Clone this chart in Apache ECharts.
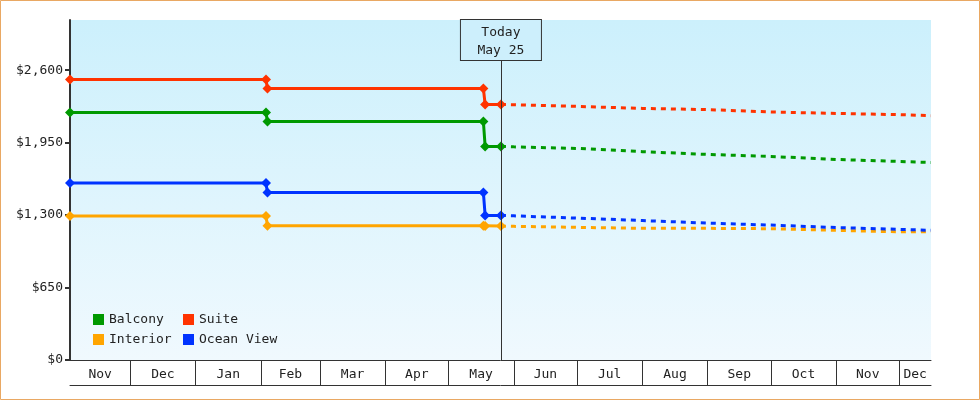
<!DOCTYPE html>
<html><head><meta charset="utf-8">
<script src="https://cdn.jsdelivr.net/npm/echarts@6/dist/echarts.min.js"></script>
<style>html,body{margin:0;padding:0;background:#fff}#c{width:980px;height:400px}</style>
</head><body><div id="c"></div>
<script>
// ---- data ----
const axisStart = '2022-11-02T10:00:00';
const axisEnd = '2023-12-16T00:00:00';
const monthStarts = ['2022-12-01','2023-01-01','2023-02-01','2023-03-01','2023-04-01','2023-05-01','2023-06-01','2023-07-01','2023-08-01','2023-09-01','2023-10-01','2023-11-01','2023-12-01'];
const monthLabels = ['Nov','Dec','Jan','Feb','Mar','Apr','May','Jun','Jul','Aug','Sep','Oct','Nov','Dec'];
const yTicks = [0, 650, 1300, 1950, 2600];
const yMax = 3050;
const todayDate = '2023-05-25T22:00:00';
const todayTop = 2691;
const todayLabel = 'Today\nMay 25';

const seriesNames = ['Balcony', 'Suite', 'Interior', 'Ocean View'];
const seriesColors = ['#009900', '#ff3300', '#ffa500', '#0033ff'];

const historyDates = ['2022-11-02T10:00:00','2023-02-03T10:00:00','2023-02-04T03:00:00','2023-05-17T14:00:00','2023-05-18T10:00:00','2023-05-25T22:00:00'];
const balconyHistory  = [2221, 2221, 2140, 2140, 1916, 1916];
const suiteHistory    = [2517, 2517, 2436, 2436, 2292, 2292];
const interiorHistory = [1291, 1291, 1205, 1205, 1201, 1201];
const oceanHistory    = [1587, 1587, 1503, 1503, 1297, 1297];

const forecastDates = ['2023-05-25T22:00:00','2023-06-01','2023-07-01','2023-08-01','2023-09-01','2023-10-01','2023-11-01','2023-12-01','2023-12-16'];
const balconyForecast  = [1916, 1912, 1898, 1869, 1844, 1826, 1799, 1781, 1772];
const suiteForecast    = [2292, 2290, 2275, 2257, 2246, 2225, 2212, 2201, 2192];
const interiorForecast = [1201, 1199, 1190, 1181, 1181, 1178, 1163, 1150, 1150];
const oceanForecast    = [1297, 1293, 1273, 1251, 1228, 1210, 1188, 1172, 1163];

// ---- build ----
const FONT = 'DejaVu Sans Mono';
const TXT = '#222';
const t = s => +new Date(s);
const xMin = t(axisStart), xMax = t(axisEnd);
const bounds = [axisStart].concat(monthStarts, [axisEnd]).map(t);
const labelPos = bounds.slice(0, -1).map((b, i) => (b + bounds[i + 1]) / 2);
const histories = [balconyHistory, suiteHistory, interiorHistory, oceanHistory];
const forecasts = [balconyForecast, suiteForecast, interiorForecast, oceanForecast];

const series = [{
  type: 'line', name: '_today', data: [], z: 1, silent: true,
  markLine: {
    symbol: 'none', silent: true, animation: false,
    lineStyle: { color: '#333', width: 1, type: 'solid' },
    emphasis: { disabled: true },
    label: {
      show: true, position: 'end', distance: 0, formatter: todayLabel,
      color: TXT, fontFamily: FONT, fontSize: 13, lineHeight: 18,
      width: 80, align: 'center', padding: [4, 0, 0, 0],
      borderColor: '#333', borderWidth: 1, backgroundColor: '#cdeffc'
    },
    data: [[{ coord: [t(todayDate), 0] }, { coord: [t(todayDate), todayTop] }]]
  }
}];
seriesNames.forEach((name, i) => {
  const c = seriesColors[i];
  series.push({
    type: 'line', name, z: 3, color: c,
    data: historyDates.map((d, k) => [t(d), histories[i][k]]),
    symbol: 'diamond', symbolSize: 10, showSymbol: true,
    lineStyle: { color: c, width: 3 }, itemStyle: { color: c },
    emphasis: { disabled: true }
  });
  series.push({
    type: 'line', name, z: 2, color: c,
    data: forecastDates.map((d, k) => [t(d), forecasts[i][k]]),
    symbol: 'none', showSymbol: false,
    lineStyle: { color: c, width: 3, type: [5, 5] }, itemStyle: { color: c },
    emphasis: { disabled: true }
  });
});

const legendBase = {
  padding: 0, icon: 'rect', itemWidth: 11, itemHeight: 11, selectedMode: false,
  itemStyle: { borderWidth: 0 },
  textStyle: { fontFamily: FONT, fontSize: 13, color: TXT }
};
const legendPos = [[93, 313], [183, 313], [93, 333], [183, 333]];

const option = {
  animation: false,
  backgroundColor: '#fff',
  textStyle: { fontFamily: FONT },
  graphic: [{
    type: 'rect', silent: true, z: 100,
    shape: { x: 0.5, y: 0.5, width: 979, height: 399 },
    style: { fill: null, stroke: '#e9a863', lineWidth: 1 }
  }],
  grid: {
    left: 70, right: 49, top: 20, bottom: 40, show: true, borderWidth: 0,
    backgroundColor: new echarts.graphic.LinearGradient(0, 0, 0, 1, [
      { offset: 0, color: '#ccf0fc' }, { offset: 1, color: '#f0f9fe' }
    ])
  },
  legend: seriesNames.map((n, i) => Object.assign({}, legendBase, {
    data: [n], left: legendPos[i][0], top: legendPos[i][1]
  })),
  xAxis: [{
    type: 'value', min: xMin, max: xMax, scale: true,
    axisLine: { show: true, onZero: false, lineStyle: { color: '#333', width: 1 } },
    axisTick: { show: true, customValues: monthStarts.map(t), length: 25, lineStyle: { color: '#333', width: 1 } },
    axisLabel: {
      customValues: labelPos, margin: 8, color: TXT, fontFamily: FONT, fontSize: 13,
      showMinLabel: true, showMaxLabel: true,
      formatter: v => {
        let best = 0;
        labelPos.forEach((p, i) => { if (Math.abs(p - v) < Math.abs(labelPos[best] - v)) best = i; });
        return monthLabels[best];
      }
    },
    splitLine: { show: false }
  }, {
    type: 'value', min: xMin, max: xMax, scale: true, position: 'bottom', offset: 25,
    axisLine: { show: true, onZero: false, lineStyle: { color: '#333', width: 1 } },
    axisTick: { show: false }, axisLabel: { show: false }, splitLine: { show: false }
  }],
  yAxis: {
    type: 'value', min: 0, max: yMax,
    axisLine: { show: true, lineStyle: { color: '#333', width: 2 } },
    axisTick: { show: true, customValues: yTicks, length: 5, lineStyle: { color: '#333', width: 2 } },
    axisLabel: {
      customValues: yTicks, margin: 7, color: TXT, fontFamily: FONT, fontSize: 13,
      formatter: v => '$' + Number(v).toLocaleString('en-US')
    },
    splitLine: { show: false }
  },
  series
};
const chart = echarts.init(document.getElementById('c'), null, { renderer: 'canvas' });
chart.setOption(option);
</script></body></html>
